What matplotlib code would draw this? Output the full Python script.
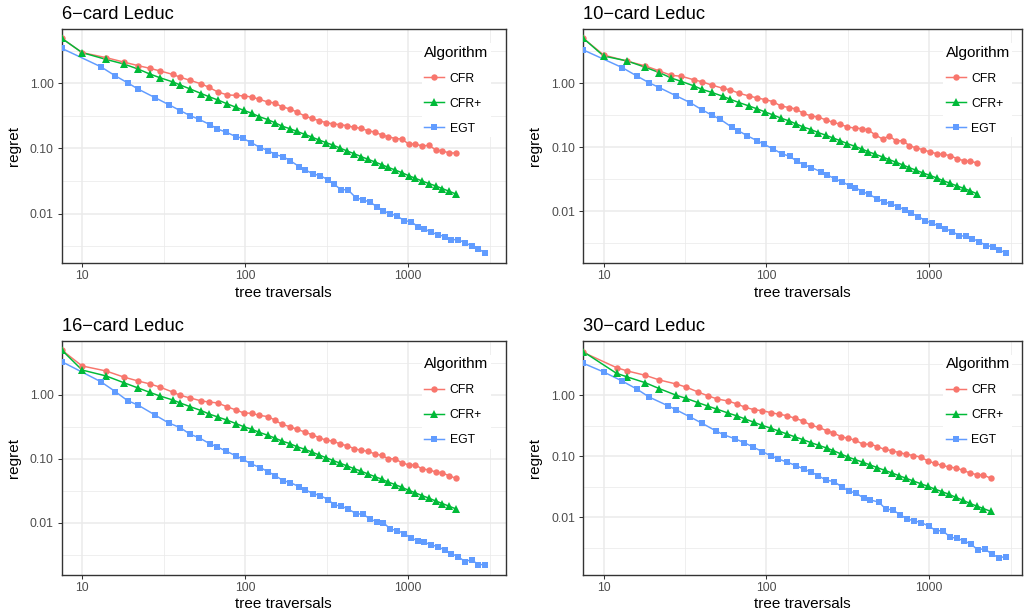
"""
Regret vs tree traversals for CFR, CFR+ and EGT on four Leduc variants.
Log-log panels in a 2x2 grid, ggplot theme_bw look.
"""

import matplotlib
matplotlib.use("Agg")  # no display in the sandbox
import matplotlib.pyplot as plt
from matplotlib.lines import Line2D
from matplotlib.ticker import FixedLocator, FixedFormatter, NullFormatter

plt.rcParams['font.family'] = ['Liberation Sans', 'DejaVu Sans']

# ---------------------------------------------------------------
# DATA
# ---------------------------------------------------------------
algorithms = ['CFR', 'CFR+', 'EGT']
titles = ['6\u2212card Leduc', '10\u2212card Leduc', '16\u2212card Leduc', '30\u2212card Leduc']

# traversal counts shared by panels 1-3
x_cfr = [7.5, 10, 14, 18, 22, 26, 30, 36, 40, 46, 54, 60, 68, 78, 88, 98, 110, 122, 138, 152,
         168, 188, 208, 232, 256, 284, 314, 348, 384, 422, 466, 516, 568, 626, 688, 754, 832,
         914, 1008, 1110, 1218, 1344, 1478, 1624, 1790, 1968]
x_egt = [7.5, 13, 16, 19, 22, 28, 34, 40, 46, 52, 61, 67, 76, 88, 97, 109, 124, 139, 153, 171,
         189, 215, 234, 262, 289, 324, 352, 388, 427, 480, 530, 585, 646, 706, 776, 857, 945,
         1043, 1146, 1253, 1383, 1528, 1679, 1835, 2024, 2234, 2455, 2684, 2963]

# traversal counts for the 30-card panel
x30_cfr = [7.5, 12, 14, 18, 22, 28, 32, 38, 44, 50, 58, 66, 74, 84, 94, 107, 120, 134, 150, 168,
           188, 210, 234, 258, 288, 316, 352, 392, 434, 480, 532, 590, 652, 722, 798, 884, 982,
           1080, 1196, 1320, 1458, 1610, 1776, 1950, 2152, 2388]
x30_egt = [7.5, 10, 13, 16, 19, 25, 28, 34, 40, 49, 55, 64, 73, 83, 94, 106, 117, 133, 152, 169,
           188, 207, 232, 260, 291, 320, 353, 395, 434, 489, 540, 596, 661, 726, 801, 893, 991,
           1099, 1208, 1340, 1472, 1625, 1795, 1982, 2185, 2412, 2674, 2951]

# 6-card
cfr_6 = [4.91, 2.96, 2.48, 2.12, 1.87, 1.70, 1.55, 1.37, 1.24, 1.11, 0.977, 0.868, 0.736, 0.662,
         0.654, 0.640, 0.617, 0.568, 0.517, 0.499, 0.438, 0.404, 0.363, 0.315, 0.290, 0.267,
         0.249, 0.238, 0.232, 0.224, 0.211, 0.204, 0.186, 0.179, 0.161, 0.152, 0.142, 0.140,
         0.117, 0.117, 0.109, 0.112, 0.0948, 0.0916, 0.0853, 0.0853]
cfrp_6 = [4.91, 2.96, 2.33, 1.98, 1.66, 1.39, 1.22, 1.05, 0.943, 0.819, 0.694, 0.624, 0.555,
          0.482, 0.428, 0.385, 0.347, 0.308, 0.277, 0.249, 0.221, 0.201, 0.183, 0.165, 0.150,
          0.135, 0.123, 0.112, 0.101, 0.0916, 0.0833, 0.0749, 0.0682, 0.0621, 0.0565, 0.0514,
          0.0468, 0.0426, 0.0383, 0.0348, 0.0317, 0.0289, 0.0266, 0.0242, 0.0220, 0.0200]
egt_6 = [3.44, 1.80, 1.30, 1.02, 0.819, 0.603, 0.471, 0.381, 0.319, 0.281, 0.232, 0.201, 0.179,
         0.152, 0.143, 0.123, 0.103, 0.0927, 0.0804, 0.0749, 0.0650, 0.0526, 0.0468, 0.0406,
         0.0383, 0.0329, 0.0282, 0.0233, 0.0233, 0.0174, 0.0164, 0.0149, 0.0128, 0.0110, 0.0100,
         0.0092, 0.0078, 0.00754, 0.00632, 0.00589, 0.00517, 0.00476, 0.00444, 0.00399, 0.00399,
         0.00359, 0.00319, 0.00287, 0.00252]

# 10-card
cfr_10 = [5.05, 2.77, 2.21, 1.87, 1.56, 1.33, 1.29, 1.13, 1.06, 0.942, 0.835, 0.787, 0.698, 0.634,
          0.590, 0.556, 0.517, 0.443, 0.417, 0.397, 0.340, 0.309, 0.298, 0.267, 0.246, 0.229,
          0.208, 0.200, 0.196, 0.187, 0.156, 0.135, 0.150, 0.126, 0.127, 0.106, 0.0977, 0.0920,
          0.0846, 0.0796, 0.0778, 0.0741, 0.0665, 0.0619, 0.0604, 0.0569]
cfrp_10 = [5.05, 2.67, 2.23, 1.78, 1.47, 1.21, 1.07, 0.908, 0.806, 0.723, 0.626, 0.562, 0.499,
           0.443, 0.397, 0.357, 0.320, 0.287, 0.258, 0.232, 0.208, 0.189, 0.170, 0.154, 0.140,
           0.127, 0.114, 0.104, 0.0942, 0.0855, 0.0778, 0.0706, 0.0642, 0.0583, 0.0530, 0.0481,
           0.0437, 0.0397, 0.0365, 0.0332, 0.0301, 0.0274, 0.0249, 0.0229, 0.0208, 0.0187]
egt_10 = [3.32, 1.76, 1.30, 1.02, 0.856, 0.634, 0.499, 0.388, 0.320, 0.274, 0.208, 0.182, 0.152,
          0.126, 0.111, 0.0953, 0.0796, 0.0723, 0.0611, 0.0530, 0.0481, 0.0417, 0.0374, 0.0324,
          0.0291, 0.0252, 0.0234, 0.0203, 0.0184, 0.0156, 0.0140, 0.0130, 0.0118, 0.0105,
          0.00931, 0.00826, 0.00715, 0.00649, 0.00590, 0.00536, 0.00481, 0.00417, 0.00407,
          0.00374, 0.00336, 0.00291, 0.00281, 0.00246, 0.00226]

# 16-card
cfr_16 = [5.07, 2.85, 2.38, 1.91, 1.66, 1.49, 1.33, 1.11, 0.988, 0.898, 0.805, 0.777, 0.749,
          0.649, 0.582, 0.523, 0.516, 0.480, 0.458, 0.406, 0.347, 0.319, 0.290, 0.263, 0.239,
          0.215, 0.195, 0.190, 0.169, 0.161, 0.144, 0.136, 0.131, 0.119, 0.113, 0.101, 0.0994,
          0.0871, 0.0800, 0.0800, 0.0693, 0.0669, 0.0622, 0.0600, 0.0539, 0.0495]
cfrp_16 = [5.07, 2.46, 1.99, 1.56, 1.29, 1.10, 0.965, 0.835, 0.749, 0.656, 0.568, 0.504, 0.452,
           0.401, 0.356, 0.319, 0.290, 0.260, 0.233, 0.212, 0.190, 0.173, 0.155, 0.141, 0.128,
           0.115, 0.104, 0.0936, 0.0851, 0.0773, 0.0702, 0.0637, 0.0578, 0.0526, 0.0478, 0.0434,
           0.0394, 0.0358, 0.0321, 0.0292, 0.0265, 0.0241, 0.0218, 0.0199, 0.0180, 0.0164]
egt_16 = [3.33, 1.62, 1.13, 0.815, 0.697, 0.486, 0.364, 0.308, 0.242, 0.215, 0.171, 0.155, 0.133,
          0.111, 0.0982, 0.0830, 0.0727, 0.0622, 0.0545, 0.0455, 0.0423, 0.0366, 0.0325, 0.0285,
          0.0265, 0.0229, 0.0189, 0.0182, 0.0164, 0.0138, 0.0135, 0.0114, 0.0102, 0.0100,
          0.00796, 0.00750, 0.00673, 0.00569, 0.00523, 0.00492, 0.00452, 0.00416, 0.00373,
          0.00327, 0.00293, 0.00245, 0.00263, 0.00220, 0.00220]

# 30-card
cfr_30 = [4.98, 2.80, 2.47, 2.10, 1.76, 1.51, 1.35, 1.12, 0.963, 0.860, 0.798, 0.713, 0.629,
          0.575, 0.554, 0.514, 0.483, 0.459, 0.415, 0.376, 0.319, 0.296, 0.261, 0.239, 0.208,
          0.196, 0.182, 0.156, 0.158, 0.143, 0.129, 0.123, 0.114, 0.108, 0.102, 0.0969, 0.0834,
          0.0764, 0.0708, 0.0665, 0.0641, 0.0587, 0.0531, 0.0499, 0.0492, 0.0434]
cfrp_30 = [5.11, 2.26, 1.97, 1.59, 1.27, 0.987, 0.883, 0.750, 0.653, 0.583, 0.508, 0.454, 0.405,
           0.357, 0.319, 0.285, 0.255, 0.230, 0.206, 0.186, 0.166, 0.150, 0.136, 0.123, 0.108,
           0.0969, 0.0877, 0.0793, 0.0717, 0.0649, 0.0587, 0.0531, 0.0480, 0.0434, 0.0393,
           0.0355, 0.0321, 0.0290, 0.0263, 0.0238, 0.0212, 0.0190, 0.0169, 0.0153, 0.0139, 0.0125]
egt_30 = [3.30, 2.38, 1.69, 1.25, 0.927, 0.661, 0.569, 0.437, 0.348, 0.258, 0.222, 0.193, 0.166,
          0.141, 0.119, 0.102, 0.0910, 0.0803, 0.0700, 0.0617, 0.0551, 0.0480, 0.0408, 0.0383,
          0.0313, 0.0270, 0.0250, 0.0207, 0.0192, 0.0178, 0.0137, 0.0132, 0.0111, 0.00940,
          0.00883, 0.00818, 0.00722, 0.00605, 0.00605, 0.00477, 0.00454, 0.00416, 0.00367,
          0.00296, 0.00307, 0.00252, 0.00219, 0.00228]

x_ticks = [10, 100, 1000]
x_tick_labels = ['10', '100', '1000']
y_ticks = [0.01, 0.1, 1.0]
y_tick_labels = ['0.01', '0.10', '1.00']

# ---------------------------------------------------------------
# STYLE / LAYOUT
# ---------------------------------------------------------------
colors = {'CFR': '#F8766D', 'CFR+': '#00BA38', 'EGT': '#619CFF'}
markers = {'CFR': ('o', 4.6), 'CFR+': ('^', 5.4), 'EGT': ('s', 4.4)}

W, H = 1028, 616
# panel boxes in pixels: left, top, right, bottom
boxes = [(61.7, 29.3, 505.7, 263.3), (583.3, 29.3, 1022.3, 263.3),
         (61.7, 341.0, 505.7, 575.0), (583.3, 341.0, 1022.3, 575.0)]
xmax = [3970, 3726, 3970, 3726]
ylims = [(0.00173, 6.74), (0.00154, 6.98), (0.00151, 7.01), (0.00114, 7.64)]

panels = [
    {'CFR': (x_cfr, cfr_6), 'CFR+': (x_cfr, cfrp_6), 'EGT': (x_egt, egt_6)},
    {'CFR': (x_cfr, cfr_10), 'CFR+': (x_cfr, cfrp_10), 'EGT': (x_egt, egt_10)},
    {'CFR': (x_cfr, cfr_16), 'CFR+': (x_cfr, cfrp_16), 'EGT': (x_egt, egt_16)},
    {'CFR': (x30_cfr, cfr_30), 'CFR+': (x30_cfr, cfrp_30), 'EGT': (x30_egt, egt_30)},
]

fig = plt.figure(figsize=(W / 100, H / 100), dpi=100)

for i, series in enumerate(panels):
    l, t, r, b = boxes[i]
    ax = fig.add_axes([l / W, 1 - b / H, (r - l) / W, (b - t) / H])
    ax.set_xscale('log')
    ax.set_yscale('log')

    # lines first, then the points on top (geom_line + geom_point)
    for name in algorithms:
        xs, ys = series[name]
        ax.plot(xs, ys, color=colors[name], lw=1.07, zorder=2)
    for name in algorithms:
        xs, ys = series[name]
        m, ms = markers[name]
        ax.plot(xs, ys, ls='none', marker=m, ms=ms, mew=0, color=colors[name], zorder=3)

    ax.set_xlim(7.5, xmax[i])
    ax.set_ylim(*ylims[i])

    ax.xaxis.set_major_locator(FixedLocator(x_ticks))
    ax.xaxis.set_major_formatter(FixedFormatter(x_tick_labels))
    ax.xaxis.set_minor_locator(FixedLocator([31.62, 316.2, 3162]))
    ax.xaxis.set_minor_formatter(NullFormatter())
    ax.yaxis.set_major_locator(FixedLocator(y_ticks))
    ax.yaxis.set_major_formatter(FixedFormatter(y_tick_labels))
    ax.yaxis.set_minor_locator(FixedLocator([0.003162, 0.03162, 0.3162, 3.162]))
    ax.yaxis.set_minor_formatter(NullFormatter())

    ax.set_axisbelow(True)
    ax.grid(which='major', color='#EBEBEB', lw=1.1)
    ax.grid(which='minor', color='#EBEBEB', lw=0.55)
    ax.tick_params(which='minor', length=0)
    ax.tick_params(which='major', length=2.75, width=0.75, color='#333333',
                   labelsize=8.8, labelcolor='#4D4D4D', pad=2.2)
    ax.tick_params(axis='y', which='major', pad=3.0)
    for sp in ax.spines.values():
        sp.set_color('#333333')
        sp.set_linewidth(1.0)

    ax.set_title(titles[i], loc='left', fontsize=13.2, pad=7.2)
    ax.set_xlabel('tree traversals', fontsize=11, labelpad=2.5)
    ax.set_ylabel('regret', fontsize=11, labelpad=6.5)

    handles = [Line2D([], [], color=colors[n], lw=1.07, marker=markers[n][0],
                      ms=markers[n][1], mew=0) for n in algorithms]
    fx = 360.0 / (r - l)
    fy = 1 - 14.0 / (b - t)
    leg = ax.legend(handles, algorithms, title='Algorithm', loc='upper left',
                    bbox_to_anchor=(fx, fy), fontsize=8.8, title_fontsize=11,
                    frameon=True, fancybox=False, framealpha=1, facecolor='white',
                    borderpad=0.2, labelspacing=1.06, handlelength=1.64,
                    handletextpad=0.45, borderaxespad=0, alignment='left', numpoints=1)
    leg.get_frame().set_linewidth(0)

plt.savefig('out.png', dpi=100)
plt.close()
